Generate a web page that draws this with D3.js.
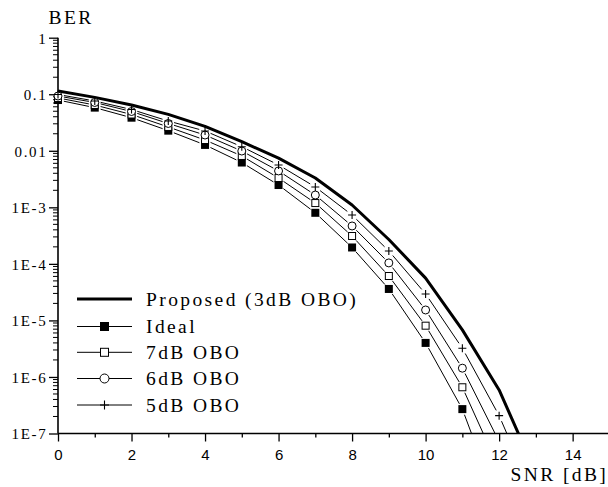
<!DOCTYPE html>
<html><head><meta charset="utf-8">
<script src="https://cdn.jsdelivr.net/npm/d3@7"></script>
<style>body{margin:0;background:#fff}svg{display:block}</style></head>
<body>
<svg id="c" width="608" height="487"></svg>
<script>
// ---- data ----
const snr = [0,1,2,3,4,5,6,7,8,9,10,11,12,13];
const proposed = [0.114,0.088,0.0645,0.044,0.027,0.0145,0.0074,0.0033,0.0011,2.7e-4,5.6e-5,6.8e-6,5.9e-7,2.0e-8];
const ideal = [0.079,0.058,0.0385,0.0227,0.0127,0.0062,0.00248,8.0e-4,1.95e-4,3.6e-5,4.0e-6,2.7e-7,5e-9];
const obo7 = [0.086,0.0645,0.0438,0.0264,0.0155,0.0081,0.0033,1.19e-3,3.11e-4,6.1e-5,8.07e-6,6.57e-7,2.4e-8];
const obo6 = [0.093,0.0715,0.0495,0.0304,0.019,0.0099,0.0044,1.65e-3,4.68e-4,1.04e-4,1.53e-5,1.43e-6,7.2e-8];
const obo5 = [0.099,0.076,0.0537,0.0336,0.0224,0.0118,0.00561,0.00229,7.3e-4,1.69e-4,2.94e-5,3.22e-6,2.07e-7,6.5e-9];
const xTicks = [0,1,2,3,4,5,6,7,8,9,10,11,12,13,14,15];
const xTickLabels = ["0","","2","","4","","6","","8","","10","","12","","14",""];
const yTicks = [1,0.1,0.01,1e-3,1e-4,1e-5,1e-6,1e-7];
const yTickLabels = ["1","0.1","0.01","1E-3","1E-4","1E-5","1E-6","1E-7"];
const seriesNames = ["Proposed (3dB OBO)","Ideal","7dB OBO","6dB OBO","5dB OBO"];
const seriesMarkers = ["none","filledSquare","openSquare","circle","plus"];
const seriesValues = [proposed, ideal, obo7, obo6, obo5];

// ---- layout ----
const svg = d3.select("#c");
const X0 = 58, X1 = 609.4, YT = 37.7, YB = 433.5;
const x = d3.scaleLinear().domain([0,15]).range([X0,X1]);
const y = d3.scaleLog().domain([1e-7,1]).range([YB,YT]);
const serif = "'Liberation Serif','Times New Roman',Times,serif";
const sans = "'Liberation Sans',Arial,Helvetica,sans-serif";

svg.append("defs").append("clipPath").attr("id","plot")
  .append("rect").attr("x",X0).attr("y",YT).attr("width",X1-X0+5).attr("height",YB-YT);

// axes
const xAxis = d3.axisBottom(x).tickValues(xTicks).tickSizeOuter(0)
  .tickSize(0).tickFormat("");
const gx = svg.append("g").attr("transform",`translate(0,${YB})`).call(xAxis);
gx.select(".domain").attr("stroke","#000").attr("stroke-width",1.6).attr("d",`M${X0},0H${X1}`);
gx.selectAll(".tick line").attr("stroke","#000").attr("stroke-width",1.3)
  .attr("y2",(d,i)=> i%2===0 ? 8 : 4);
gx.selectAll(".tick").append("text")
  .attr("y",26.5).attr("text-anchor","middle").attr("fill","#000")
  .style("font-family",sans).style("font-size","15px")
  .text((d,i)=>xTickLabels[i]);

const yAxis = d3.axisLeft(y).tickValues(yTicks).tickSize(9).tickSizeOuter(0).tickFormat("");
const gy = svg.append("g").attr("transform",`translate(${X0},0)`).call(yAxis);
gy.select(".domain").attr("stroke","#000").attr("stroke-width",1.6).attr("d",`M0,${YT}V${YB}`);
gy.selectAll(".tick line").attr("stroke","#000").attr("stroke-width",1.3);
gy.selectAll(".tick").append("text")
  .attr("x",-10.5).attr("dy","0.36em").attr("text-anchor","end").attr("fill","#000")
  .style("font-family",serif).style("font-size","15px").style("letter-spacing","1.7px")
  .text((d,i)=>yTickLabels[i]);
// minor y ticks
const minor = [];
yTicks.slice(1).forEach(dec => { for (let k=2;k<=9;k++) minor.push(dec*k); });
gy.selectAll(".minor").data(minor).enter().append("line")
  .attr("x1",-5).attr("x2",0).attr("y1",d=>y(d)).attr("y2",d=>y(d))
  .attr("stroke","#000").attr("stroke-width",1);

// axis titles
svg.append("text").attr("x",48.5).attr("y",24.3).text("BER")
  .style("font-family",serif).style("font-size","19.5px").style("letter-spacing","2.4px");
svg.append("text").attr("x",510.5).attr("y",481).text("SNR [dB]")
  .style("font-family",serif).style("font-size","19.5px").style("letter-spacing","2.4px");

// markers
function drawMarker(g, type, cx, cy, s) {
  const h = s/2;
  if (type === "filledSquare") g.append("rect").attr("x",cx-h).attr("y",cy-h).attr("width",s).attr("height",s).attr("fill","#000");
  else if (type === "openSquare") g.append("rect").attr("x",cx-h+0.5).attr("y",cy-h+0.5).attr("width",s-1).attr("height",s-1).attr("fill","#fff").attr("stroke","#000").attr("stroke-width",1);
  else if (type === "circle") g.append("circle").attr("cx",cx).attr("cy",cy).attr("r",h).attr("fill","#fff").attr("stroke","#000").attr("stroke-width",1);
  else if (type === "plus") g.append("path").attr("d",`M${cx-h},${cy}H${cx+h}M${cx},${cy-h}V${cy+h}`).attr("stroke","#000").attr("stroke-width",1.1).attr("fill","none");
}

const plotG = svg.append("g").attr("clip-path","url(#plot)");
const GAP = 6;
seriesValues.forEach((vals, si) => {
  const type = seriesMarkers[si];
  const pts = vals.map((v,i)=>({px:x(snr[i]), py:y(v), vis: v >= 1e-7}));
  if (type === "none") {
    plotG.append("path").attr("d", d3.line().x(p=>p.px).y(p=>p.py)(pts))
      .attr("fill","none").attr("stroke","#000").attr("stroke-width",3).attr("stroke-linejoin","round");
    return;
  }
  for (let i=0;i<pts.length-1;i++) {
    const a = pts[i], b = pts[i+1];
    const dx = b.px-a.px, dy = b.py-a.py, L = Math.hypot(dx,dy);
    const ux = dx/L, uy = dy/L;
    const sx = a.px + ux*GAP, sy = a.py + uy*GAP;
    const ex = b.vis ? b.px - ux*GAP : b.px, ey = b.vis ? b.py - uy*GAP : b.py;
    plotG.append("line").attr("x1",sx).attr("y1",sy).attr("x2",ex).attr("y2",ey)
      .attr("stroke","#000").attr("stroke-width",1);
  }
  pts.filter(p=>p.vis).forEach(p => drawMarker(svg, type, p.px, p.py, 8));
});

// legend
const legY = [299, 326.5, 352.3, 378.5, 405];
const leg = svg.append("g");
seriesNames.forEach((name, i) => {
  const cy = legY[i], type = seriesMarkers[i];
  if (type === "none") {
    leg.append("line").attr("x1",77).attr("x2",132).attr("y1",cy).attr("y2",cy)
      .attr("stroke","#000").attr("stroke-width",3);
  } else {
    leg.append("line").attr("x1",77).attr("x2",132).attr("y1",cy).attr("y2",cy)
      .attr("stroke","#000").attr("stroke-width",1);
    drawMarker(leg, type, 104.5, cy, type==="plus" ? 9 : 9);
  }
  leg.append("text").attr("x",146).attr("y",cy+6.5).text(name)
    .style("font-family",serif).style("font-size","19.5px").style("letter-spacing","2.4px");
});
</script>
</body></html>
